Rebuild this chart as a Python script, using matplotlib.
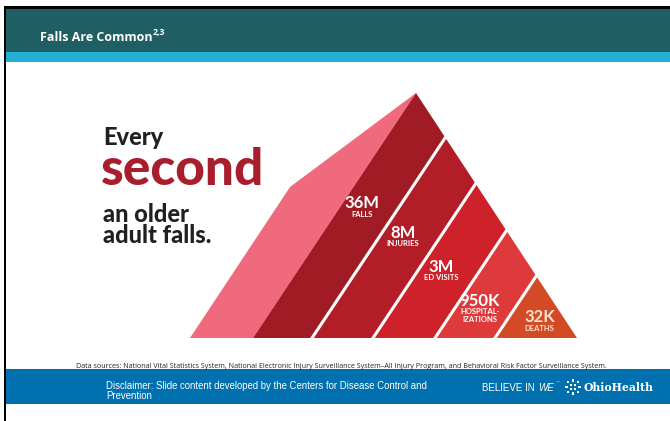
import matplotlib.pyplot as plt
from matplotlib.patches import Polygon, Rectangle
import numpy as np

# --- data ---
values = ["36M", "8M", "3M", "950K", "32K"]
labels = ["FALLS", "INJURIES", "ED VISITS", "HOSPITAL-\nIZATIONS", "DEATHS"]
band_colors = ["#A11B24", "#B21D27", "#CF2129", "#DE3A3B", "#D24A26"]
value_colors = ["white", "white", "white", "white", "#FBE6CF"]

title = "Falls Are Common"
title_refs = "2,3"
headline = ["Every", "second", "an older", "adult falls."]
source_note = ("Data sources: National Vital Statistics System, National Electronic Injury "
               "Surveillance System\u2013All Injury Program, and Behavioral Risk Factor Surveillance System.")
disclaimer = ("Disclaimer: Slide content developed by the Centers for Disease Control and\n"
              "Prevention")

# --- figure in pixel coords ---
W, H = 670, 421
fig = plt.figure(figsize=(W / 100, H / 100), dpi=100)
ax = fig.add_axes([0, 0, 1, 1])
ax.set_xlim(0, W)
ax.set_ylim(H, 0)
ax.axis("off")

# slide frame + header
ax.add_patch(Rectangle((4, 6), W, 3, color="black", lw=0))
ax.add_patch(Rectangle((4, 6), 2.2, H, color="black", lw=0))
ax.add_patch(Rectangle((6, 9), W, 43, color="#1F5E62", lw=0))
ax.add_patch(Rectangle((6, 52), W, 10, color="#22B0D8", lw=0))
t = ax.text(40, 41, title, color="white", fontsize=9, fontweight="bold",
            family="Open Sans", va="baseline")
fig.canvas.draw()
bb = t.get_window_extent().transformed(ax.transData.inverted())
ax.text(bb.x1 + 0.5, 35.5, title_refs, color="white", fontsize=6.3, fontweight="bold",
        family="Open Sans", va="baseline")

# --- pyramid geometry ---
base_y = 338
apex = np.array([416.0, 93.0])
right = np.array([577.0, base_y])
left_pink = np.array([190.0, base_y])
pink_corner = np.array([290.0, 187.0])
cuts = [253, 312, 373, 435, 495, 577]   # band boundaries along the base
label_y = [211, 240, 274, 308, 325]     # vertical centre of each label block
d = apex - np.array([cuts[0], base_y])   # stripe direction


def on_right_edge(xb):
    # intersect line (xb, base)+s*d with apex->right edge
    p = np.array([xb, base_y], float)
    e = right - apex
    M = np.array([[d[0], -e[0]], [d[1], -e[1]]])
    s, tt = np.linalg.solve(M, apex - p)
    return apex + tt * e


ax.add_patch(Polygon([left_pink, pink_corner, apex, (cuts[0], base_y)],
                     closed=True, color="#EE6A7C", lw=0))

for i in range(len(values)):
    pts = [(cuts[i], base_y), on_right_edge(cuts[i]),
           on_right_edge(cuts[i + 1]), (cuts[i + 1], base_y)]
    ax.add_patch(Polygon(pts, closed=True, color=band_colors[i], lw=0))
    # label sits on the band's midline
    xm = (cuts[i] + cuts[i + 1]) / 2
    cy = label_y[i]
    cx = xm + d[0] * (base_y - cy) / -d[1] - 5
    ax.text(cx, cy + 0.5, values[i], color=value_colors[i], fontsize=12,
            fontweight="bold", family="Lato", ha="center", va="bottom")
    ax.text(cx, cy, labels[i], color=value_colors[i], fontsize=5.5,
            fontweight="bold", family="Lato", ha="center", va="top",
            linespacing=1.1)

# white gaps between bands
for xb in cuts[1:-1]:
    q = on_right_edge(xb)
    ax.plot([xb - d[0] * 0.02, q[0] + d[0] * 0.02],
            [base_y - d[1] * 0.02, q[1] + d[1] * 0.02],
            color="white", lw=2.2, solid_capstyle="butt")

# --- headline text ---
ax.text(103, 145, headline[0], color="#231F20", fontsize=17, fontweight="black",
        family="Lato", va="baseline")
ax.text(101, 185, headline[1], color="#A91E2C", fontsize=37, fontweight="black",
        family="Lato", va="baseline")
ax.text(103, 222, headline[2], color="#231F20", fontsize=17, fontweight="black",
        family="Lato", va="baseline")
ax.text(103, 243, headline[3], color="#231F20", fontsize=17, fontweight="black",
        family="Lato", va="baseline")

# --- footer ---
ax.text(76, 366, source_note, color="#222222", fontsize=5.1, family="Open Sans",
        va="center")
ax.add_patch(Rectangle((6, 369), W, 35, color="#0070AE", lw=0))
ax.text(106, 391, disclaimer, color="white", fontsize=6.9, family="Liberation Sans",
        va="center", linespacing=1.05)
ax.text(482, 388, "BELIEVE IN", color="white", fontsize=7, family="Liberation Sans",
        va="center")
ax.text(538, 388, "WE", color="white", fontsize=7, family="Liberation Sans",
        style="italic", va="center")
ax.text(555, 383, "\u2122", color="white", fontsize=3, family="DejaVu Sans",
        va="center")
# small logo mark
for dx, dy in [(-5, -5), (0, -6.5), (5, -5), (-6.5, 0), (6.5, 0), (-5, 5), (0, 6.5), (5, 5),
               (-2, -2), (2, -2), (-2, 2), (2, 2)]:
    ax.add_patch(Rectangle((573 + dx - 1.4, 387 + dy - 1.4), 2.8, 2.8,
                           color="white", lw=0))
ax.text(584, 387.5, "OhioHealth", color="white", fontsize=7.8, fontweight="bold",
        family="DejaVu Serif", va="center")

fig.savefig("out.png", dpi=100)
